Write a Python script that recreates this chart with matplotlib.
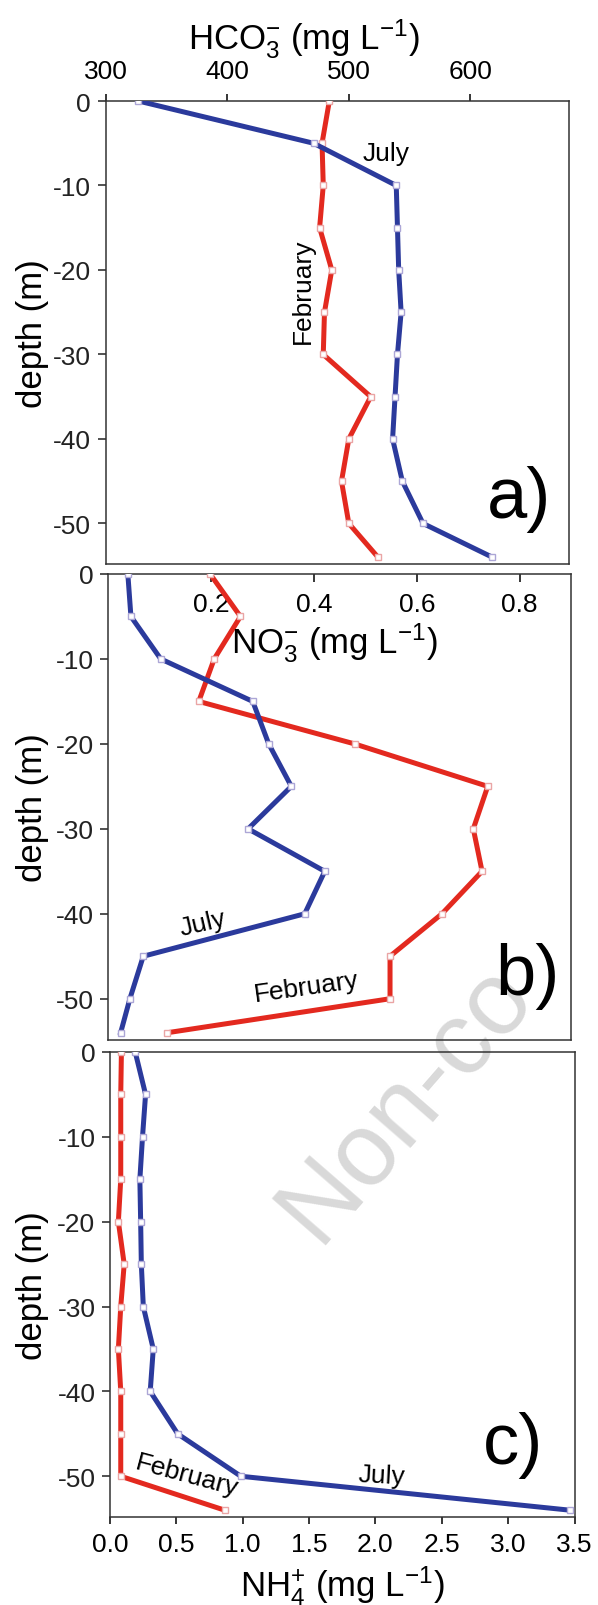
import matplotlib
matplotlib.use("Agg")
import matplotlib.pyplot as plt
import matplotlib.transforms as mtransforms

plt.rcParams['font.family'] = ['Liberation Sans', 'DejaVu Sans']
plt.rcParams['mathtext.fontset'] = 'custom'
plt.rcParams['mathtext.rm'] = 'Liberation Sans'
plt.rcParams['mathtext.it'] = 'Liberation Sans:italic'
plt.rcParams['mathtext.bf'] = 'Liberation Sans:bold'
plt.rcParams['axes.unicode_minus'] = False

# depth of the samples (m)
depth = [0, -5, -10, -15, -20, -25, -30, -35, -40, -45, -50, -54]

# HCO3- (mg/L)
hco3_feb = [484, 478, 479, 476, 486, 480, 479, 518, 500, 494, 500, 524]
hco3_jul = [327, 471, 539, 540, 541, 543, 540, 538, 536, 544, 561, 618]

# NO3- (mg/L)
no3_feb = [0.198, 0.257, 0.206, 0.176, 0.479, 0.738, 0.710, 0.727, 0.649, 0.548, 0.548, 0.115]
no3_jul = [0.038, 0.044, 0.102, 0.281, 0.312, 0.356, 0.272, 0.421, 0.382, 0.068, 0.042, 0.024]

# NH4+ (mg/L)
nh4_feb = [0.086, 0.081, 0.081, 0.081, 0.063, 0.107, 0.081, 0.063, 0.081, 0.081, 0.081, 0.865]
nh4_jul = [0.19, 0.268, 0.245, 0.225, 0.231, 0.236, 0.251, 0.326, 0.303, 0.510, 0.986, 3.467]

blue = '#2b3a9c'
red = '#e3291f'
W, H = 598, 1606
TICK_FS = 19
LABEL_FS = 25
NOTE_FS = 19
PANEL_FS = 52


def box(l, t, r, b):
    return [l / W, 1 - b / H, (r - l) / W, (b - t) / H]


def draw_profiles(ax, feb, jul):
    ax.plot(feb, depth, color=red, lw=3.6, marker='s', ms=5, mfc='white',
            mec='#eaa5a5', mew=1.0, zorder=3)
    ax.plot(jul, depth, color=blue, lw=3.6, marker='s', ms=5, mfc='white',
            mec='#aca6d6', mew=1.0, zorder=3)


def style(ax):
    ax.set_facecolor('none')
    for s in ax.spines.values():
        s.set_color('#333333')
        s.set_linewidth(1.1)
    ax.set_ylim(-54.8, 0)
    ax.set_yticks([0, -10, -20, -30, -40, -50])
    ax.tick_params(axis='y', direction='out', length=5.5, width=1.1, pad=5,
                   labelsize=TICK_FS, left=True, right=False, colors='#222222')
    ax.set_ylabel('depth (m)', fontsize=LABEL_FS)
    ax.yaxis.set_label_coords(49 / W, 0.5, transform=mtransforms.blended_transform_factory(
        ax.figure.transFigure, ax.transAxes))


fig = plt.figure(figsize=(5.98, 16.06), dpi=100)

# watermark (only the part that fits in the picture)
fig.text(318 / W, 1 - 1245 / H, 'Non-co', fontsize=74, color='#d9d9d9',
         rotation=49, rotation_mode='anchor', ha='left', va='baseline', zorder=-1)

# a) HCO3-
ax1 = fig.add_axes(box(105.5, 102, 569, 565))
draw_profiles(ax1, hco3_feb, hco3_jul)
style(ax1)
ax1.set_xlim(300, 681)
ax1.set_xticks([300, 400, 500, 600])
ax1.xaxis.tick_top()
ax1.tick_params(axis='x', direction='out', length=5, width=1.1, pad=8, labelsize=TICK_FS,
                top=True, bottom=False)
ax1.text(0.427, 1.1145, r'HCO$_3^{-}$ (mg L$^{-1}$)', transform=ax1.transAxes,
         ha='center', va='baseline', fontsize=LABEL_FS)
ax1.text(530.6, -6.2, 'July', fontsize=NOTE_FS, ha='center', va='center')
ax1.text(462, -22.4, 'February', fontsize=NOTE_FS, ha='center', va='center', rotation=90)
ax1.text(640, -47.1, 'a)', fontsize=PANEL_FS, ha='center', va='center')

# b) NO3-
ax2 = fig.add_axes(box(108.3, 575, 571, 1040.5))
draw_profiles(ax2, no3_feb, no3_jul)
style(ax2)
ax2.set_xlim(0, 0.9)
ax2.set_xticks([0.2, 0.4, 0.6, 0.8])
ax2.xaxis.tick_top()
ax2.tick_params(axis='x', direction='in', length=5.5, width=1.1, pad=-30, labelsize=TICK_FS,
                top=True, bottom=False)
ax2.text(0.489, 0.832, r'NO$_3^{-}$ (mg L$^{-1}$)', transform=ax2.transAxes,
         ha='center', va='baseline', fontsize=LABEL_FS)
ax2.text(0.184, -41.1, 'July', fontsize=NOTE_FS, ha='center', va='center', rotation=13)
ax2.text(0.385, -48.6, 'February', fontsize=NOTE_FS, ha='center', va='center', rotation=8)
ax2.text(0.815, -47.3, 'b)', fontsize=PANEL_FS, ha='center', va='center')

# c) NH4+
ax3 = fig.add_axes(box(110, 1053, 574.5, 1518))
draw_profiles(ax3, nh4_feb, nh4_jul)
style(ax3)
ax3.set_xlim(0, 3.5)
nh4_ticks = [0.0, 0.5, 1.0, 1.5, 2.0, 2.5, 3.0, 3.5]
ax3.set_xticks(nh4_ticks)
ax3.set_xticklabels(['%.1f' % v for v in nh4_ticks])
ax3.tick_params(axis='x', direction='out', length=5, width=1.1, pad=6, labelsize=TICK_FS,
                top=False, bottom=True)
ax3.text(0.5, -0.1677, r'NH$_4^{+}$ (mg L$^{-1}$)', transform=ax3.transAxes,
         ha='center', va='baseline', fontsize=LABEL_FS)
ax3.text(0.58, -49.85, 'February', fontsize=NOTE_FS, ha='center', va='center', rotation=-15)
ax3.text(2.05, -49.9, 'July', fontsize=NOTE_FS, ha='center', va='center', rotation=-3)
ax3.text(3.04, -46.3, 'c)', fontsize=PANEL_FS, ha='center', va='center')

fig.savefig('out.png', dpi=100)
